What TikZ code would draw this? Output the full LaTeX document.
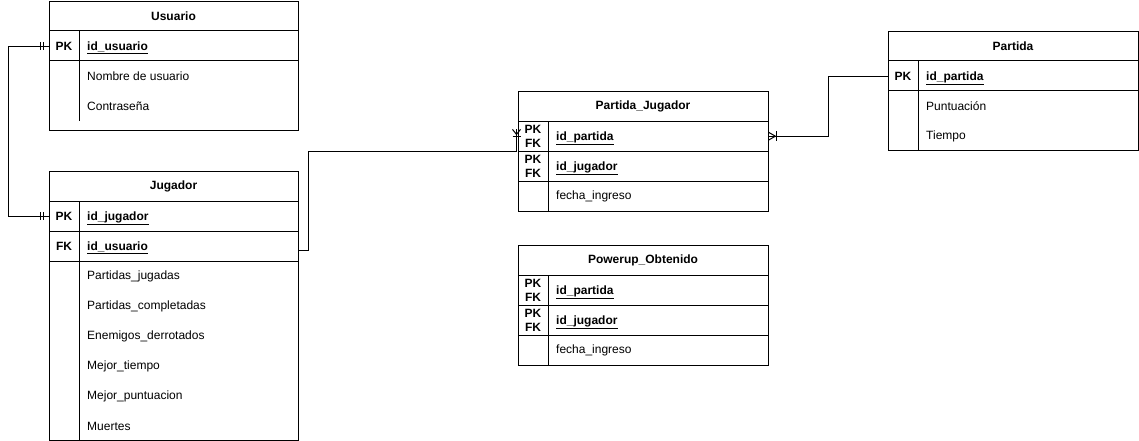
\documentclass[tikz,border=0pt]{standalone}
\usepackage{fontspec}
\setmainfont{Liberation Sans}
\usetikzlibrary{calc}
\begin{document}
\begin{tikzpicture}[x=1pt,y=-1pt,
  tbl/.style={draw, line width=1pt, anchor=north west, inner sep=0pt, minimum height=#1},
  rowbox/.style={anchor=north west, inner sep=0pt, minimum height=30pt, minimum width=#1},
  sep/.style={line width=1pt},
  hdr/.style={font=\fontsize{12}{14}\selectfont\bfseries, inner sep=0pt},
  key/.style={font=\fontsize{12}{14}\selectfont\bfseries, inner sep=0pt},
  keyname/.style={font=\fontsize{12}{14}\selectfont\bfseries, anchor=base west, inner sep=0pt, yshift=-4.4pt},
  attr/.style={font=\fontsize{12}{14}\selectfont, anchor=west, inner sep=0pt},
  pkfk/.style={font=\fontsize{12}{14}\selectfont\bfseries, align=center, inner sep=0pt},
  conn/.style={line width=1pt},
  ermark/.style={line width=1pt}
]
\useasboundingbox (0,0) rectangle (1139,441);

% ---------- Usuario ----------
\node[tbl=129pt, minimum width=249pt] (usuario) at (49,1) {};
\node[rowbox=249pt] (u-pk) at (49,31) {};
\draw[sep] (49,31) -- (298,31);
\draw[sep] (49,61) -- (298,61);
\draw[sep] (79,31) -- (79,121);
\node[hdr] (u-h) at (173.5,16) {Usuario};
\node[key] (u-k1) at (64,46) {PK};
\node[keyname] (u-a1) at (87,46) {\underline{id\_usuario}};
\node[attr] (u-a2) at (87,76) {Nombre de usuario};
\node[attr] (u-a3) at (87,106) {Contraseña};

% ---------- Jugador ----------
\node[tbl=269pt, minimum width=249pt] (jugador) at (49,171) {};
\node[rowbox=249pt] (j-pk) at (49,201) {};
\node[rowbox=249pt] (j-fk) at (49,231) {};
\draw[sep] (49,201) -- (298,201);
\draw[sep] (49,231) -- (298,231);
\draw[sep] (49,261) -- (298,261);
\draw[sep] (79,201) -- (79,440);
\node[hdr] (j-h) at (173.5,186) {Jugador};
\node[key] (j-k1) at (64,216) {PK};
\node[key] (j-k2) at (64,246) {FK};
\node[keyname] (j-a1) at (87,216) {\underline{id\_jugador}};
\node[keyname] (j-a2) at (87,246) {\underline{id\_usuario}};
\node[attr] (j-a3) at (87,276) {Partidas\_jugadas};
\node[attr] (j-a4) at (87,306) {Partidas\_completadas};
\node[attr] (j-a5) at (87,336) {Enemigos\_derrotados};
\node[attr] (j-a6) at (87,366) {Mejor\_tiempo};
\node[attr] (j-a7) at (87,396) {Mejor\_puntuacion};
\node[attr] (j-a8) at (87,426) {Muertes};

% ---------- Partida_Jugador ----------
\node[tbl=120pt, minimum width=250pt] (pj) at (518,91) {};
\node[rowbox=250pt] (pj-pk1) at (518,121) {};
\node[rowbox=250pt] (pj-pk2) at (518,151) {};
\draw[sep] (518,121) -- (768,121);
\draw[sep] (518,151) -- (768,151);
\draw[sep] (518,181) -- (768,181);
\draw[sep] (548,121) -- (548,211);
\node[hdr] (pj-h) at (643,106) {Partida\_Jugador};
\node[pkfk] (pj-k1) at (533,136) {PK\\FK};
\node[pkfk] (pj-k2) at (533,166) {PK\\FK};
\node[keyname] (pj-a1) at (556,136) {\underline{id\_partida}};
\node[keyname] (pj-a2) at (556,166) {\underline{id\_jugador}};
\node[attr] (pj-a3) at (556,196) {fecha\_ingreso};

% ---------- Powerup_Obtenido ----------
\node[tbl=120pt, minimum width=250pt] (po) at (518,245) {};
\draw[sep] (518,275) -- (768,275);
\draw[sep] (518,305) -- (768,305);
\draw[sep] (518,335) -- (768,335);
\draw[sep] (548,275) -- (548,365);
\node[hdr] (po-h) at (643,260) {Powerup\_Obtenido};
\node[pkfk] (po-k1) at (533,290) {PK\\FK};
\node[pkfk] (po-k2) at (533,320) {PK\\FK};
\node[keyname] (po-a1) at (556,290) {\underline{id\_partida}};
\node[keyname] (po-a2) at (556,320) {\underline{id\_jugador}};
\node[attr] (po-a3) at (556,350) {fecha\_ingreso};

% ---------- Partida ----------
\node[tbl=119pt, minimum width=250pt] (partida) at (888,31) {};
\node[rowbox=250pt] (pa-pk) at (888,61) {};
\draw[sep] (888,61) -- (1138,61);
\draw[sep] (888,91) -- (1138,91);
\draw[sep] (918,61) -- (918,150);
\node[hdr] (pa-h) at (1013,46) {Partida};
\node[key] (pa-k1) at (903,76) {PK};
\node[keyname] (pa-a1) at (926,76) {\underline{id\_partida}};
\node[attr] (pa-a2) at (926,106) {Puntuación};
\node[attr] (pa-a3) at (926,136) {Tiempo};

% ---------- Connectors ----------
% Usuario -> Jugador (one to one, mandatory)
\draw[conn] (u-pk.west) -- ++(-41,0) |- (j-pk.west);
\draw[ermark] ($(u-pk.west)+(-9,-4)$) -- ++(0,8);
\draw[ermark] ($(u-pk.west)+(-6,-4)$) -- ++(0,8);
\draw[ermark] ($(j-pk.west)+(-9,-4)$) -- ++(0,8);
\draw[ermark] ($(j-pk.west)+(-6,-4)$) -- ++(0,8);

% Jugador -> Partida_Jugador (one or many)
\coordinate (pjin) at ($(pj-pk1.south west)+(-1.5,0)$);
\coordinate (pjtip) at ($(pjin)+(0,-22)$);
\draw[conn] ($(j-fk.east)+(0,4)$) -- ++(10,0) |- (pjin) -- (pjtip);
\draw[ermark] ($(pjtip)+(-4,0)$) -- ($(pjtip)+(0,5)$) -- ($(pjtip)+(4,0)$);
\draw[ermark] ($(pjtip)+(-4,7)$) -- ($(pjtip)+(4,7)$);

% Partida -> Partida_Jugador (one or many)
\coordinate (pjr) at (pj-pk1.east);
\draw[conn] (pa-pk.west) -- ++(-60,0) |- (pjr);
\draw[ermark] ($(pjr)+(0,-4)$) -- ($(pjr)+(7,0)$) -- ($(pjr)+(0,4)$);
\draw[ermark] ($(pjr)+(8,-5)$) -- ($(pjr)+(8,5)$);
\end{tikzpicture}
\end{document}
